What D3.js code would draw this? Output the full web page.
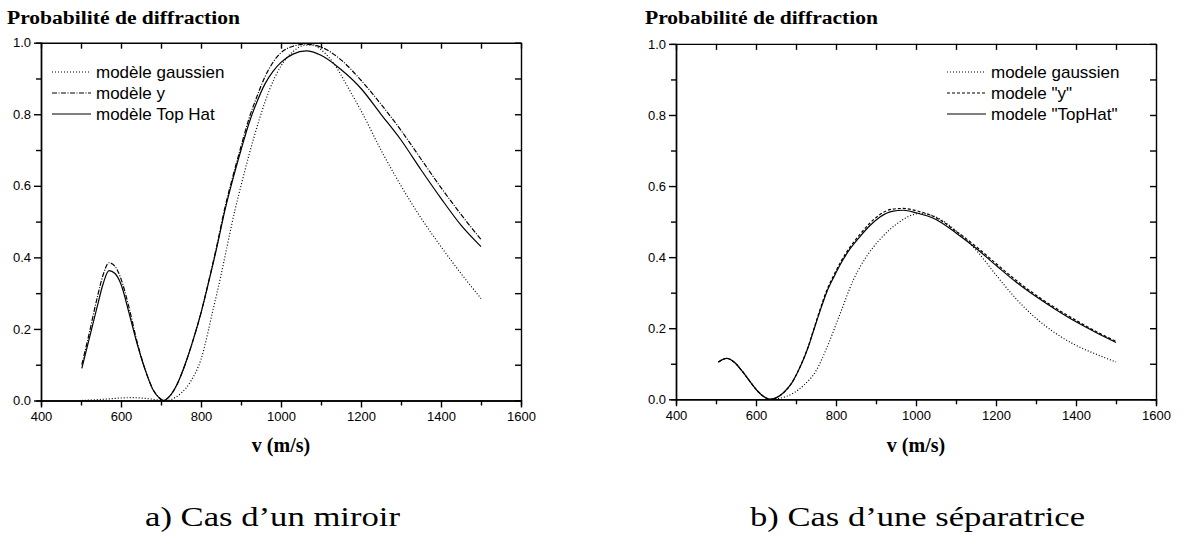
<!DOCTYPE html>
<html lang="fr">
<head>
<meta charset="UTF-8">
<title>Probabilité de diffraction</title>
<script src="https://d3js.org/d3.v7.min.js"></script>
<style>
    body { margin: 0; background: #fff; }
    svg { display: block; }
    .tick text { font-family: "Liberation Sans", Arial, sans-serif; font-size: 13px; fill: #000; }
    .axis path, .axis line { stroke: #000; stroke-width: 1.4px; }
    .ptitle { font-family: "Liberation Serif", "Times New Roman", serif; font-weight: bold; font-size: 18px; }
    .xlabel { font-family: "Liberation Serif", "Times New Roman", serif; font-weight: bold; font-size: 20px; }
    .legend text { font-family: "Liberation Sans", Arial, sans-serif; font-size: 17px; }
    .caption { font-family: "Liberation Serif", "Times New Roman", serif; font-size: 28px; }
</style>
</head>
<body>
<svg width="1184" height="545"></svg>
<script>
// ticks
const xMajor = [400, 600, 800, 1000, 1200, 1400, 1600];
const xMinor = [500, 700, 900, 1100, 1300, 1500];
const yMajor = [0, 0.2, 0.4, 0.6, 0.8, 1.0];
const yMinor = [0.1, 0.3, 0.5, 0.7, 0.9];

// a) miroir
const legendA = ["modèle gaussien", "modèle y", "modèle Top Hat"];
const vA_g = [502, 550, 600, 630, 660, 690, 715, 735, 750, 775, 800, 830, 850, 863, 885, 900, 921, 947, 970, 1000, 1030, 1060, 1080, 1100, 1130, 1170, 1200, 1250, 1300, 1350, 1400, 1450, 1500];
const pA_g = [0.0, 0.003, 0.007, 0.008, 0.006, 0.002, 0.0, 0.008, 0.02, 0.055, 0.115, 0.253, 0.35, 0.419, 0.533, 0.6, 0.69, 0.79, 0.865, 0.935, 0.975, 0.993, 0.993, 0.98, 0.945, 0.87, 0.81, 0.70, 0.60, 0.51, 0.43, 0.355, 0.285];
const vA_y = [502, 520, 540, 555, 570, 585, 600, 620, 640, 660, 680, 695, 706, 720, 740, 760, 780, 800, 820, 840, 860, 880, 900, 920, 940, 960, 980, 1000, 1030, 1063, 1100, 1150, 1200, 1250, 1300, 1350, 1400, 1450, 1500];
const pA_y = [0.10, 0.185, 0.285, 0.35, 0.385, 0.375, 0.34, 0.26, 0.165, 0.088, 0.031, 0.008, 0.0, 0.01, 0.045, 0.10, 0.168, 0.245, 0.337, 0.435, 0.54, 0.628, 0.71, 0.788, 0.85, 0.905, 0.945, 0.972, 0.99, 0.996, 0.988, 0.952, 0.895, 0.828, 0.755, 0.675, 0.595, 0.52, 0.45];
const vA_t = vA_y;
const pA_t = [0.09, 0.17, 0.26, 0.325, 0.363, 0.355, 0.325, 0.245, 0.16, 0.087, 0.03, 0.008, 0.0, 0.01, 0.045, 0.10, 0.168, 0.245, 0.335, 0.43, 0.533, 0.62, 0.70, 0.775, 0.835, 0.885, 0.92, 0.945, 0.968, 0.977, 0.965, 0.925, 0.872, 0.80, 0.728, 0.645, 0.565, 0.49, 0.43];

// b) séparatrice
const legendB = ["modele gaussien", "modele \"y\"", "modele \"TopHat\""];
const vB_g = [506, 527, 545, 565, 585, 605, 620, 640, 660, 693, 720, 750, 777, 810, 843, 880, 910, 950, 1010, 1050, 1100, 1150, 1200, 1250, 1300, 1350, 1400, 1450, 1500];
const pB_g = [0.105, 0.115, 0.105, 0.08, 0.05, 0.022, 0.007, 0.0, 0.003, 0.017, 0.04, 0.08, 0.145, 0.24, 0.335, 0.408, 0.45, 0.492, 0.523, 0.513, 0.474, 0.42, 0.35, 0.283, 0.228, 0.185, 0.152, 0.127, 0.105];
const vB_y = [506, 527, 545, 565, 585, 605, 620, 635, 650, 670, 690, 710, 730, 743, 760, 777, 795, 810, 835, 860, 885, 910, 940, 968, 1000, 1050, 1100, 1150, 1200, 1250, 1300, 1350, 1400, 1450, 1500];
const pB_y = [0.105, 0.115, 0.105, 0.08, 0.05, 0.022, 0.007, 0.0, 0.004, 0.02, 0.047, 0.091, 0.147, 0.192, 0.252, 0.307, 0.35, 0.383, 0.428, 0.464, 0.496, 0.52, 0.535, 0.537, 0.531, 0.511, 0.473, 0.43, 0.382, 0.335, 0.293, 0.256, 0.222, 0.191, 0.163];
const vB_t = vB_y;
const pB_t = [0.105, 0.115, 0.105, 0.08, 0.05, 0.022, 0.007, 0.0, 0.004, 0.02, 0.047, 0.09, 0.145, 0.19, 0.248, 0.302, 0.345, 0.378, 0.423, 0.458, 0.489, 0.513, 0.529, 0.532, 0.525, 0.506, 0.468, 0.425, 0.377, 0.33, 0.289, 0.252, 0.218, 0.188, 0.16];

const dashes = ["1,2", "5,1.5,1,1.5", null];
const dashesB = ["1,2", "3,2", null];

const svg = d3.select("svg");

function drawPanel(p) {
    let x = d3.scaleLinear().domain([400, 1600]).range([p.x0, p.x1]);
    let y = d3.scaleLinear().domain([0, 1]).range([p.y0, p.y1]);
    let g = svg.append("g");

    // axes: bottom/left outward, top/right inward
    g.append("g").attr("class", "axis").attr("transform", `translate(0,${p.y0})`)
        .call(d3.axisBottom(x).tickValues(xMinor).tickSize(5).tickFormat(""));
    g.append("g").attr("class", "axis").attr("transform", `translate(0,${p.y0})`)
        .call(d3.axisBottom(x).tickValues(xMajor).tickSize(7).tickSizeOuter(0).tickPadding(4).tickFormat(d3.format("d")));
    g.append("g").attr("class", "axis").attr("transform", `translate(${p.x0},0)`)
        .call(d3.axisLeft(y).tickValues(yMinor).tickSize(5).tickFormat(""));
    g.append("g").attr("class", "axis").attr("transform", `translate(${p.x0},0)`)
        .call(d3.axisLeft(y).tickValues(yMajor).tickSize(7).tickSizeOuter(0).tickPadding(3).tickFormat(d3.format(".1f")));
    g.append("g").attr("class", "axis").attr("transform", `translate(0,${p.y1})`)
        .call(d3.axisTop(x).tickValues(xMajor.concat(xMinor)).tickSize(-6).tickSizeOuter(0).tickFormat(""));
    g.append("g").attr("class", "axis").attr("transform", `translate(${p.x1},0)`)
        .call(d3.axisRight(y).tickValues(yMajor.concat(yMinor)).tickSize(-6).tickSizeOuter(0).tickFormat(""));

    let line = d3.line().x(d => x(d[0])).y(d => y(d[1])).curve(d3.curveMonotoneX);
    p.series.forEach((s, i) => {
        g.append("path")
            .datum(d3.zip(s.v, s.p))
            .attr("fill", "none")
            .attr("stroke", "#000")
            .attr("stroke-width", 1.2)
            .attr("stroke-dasharray", p.dash[i])
            .attr("d", line);
    });

    // legend
    let lg = g.append("g").attr("class", "legend");
    p.legend.forEach((t, i) => {
        let ly = p.legY + i * 21;
        lg.append("line")
            .attr("x1", p.legX).attr("x2", p.legX + 39)
            .attr("y1", ly).attr("y2", ly)
            .attr("stroke", "#000").attr("stroke-width", 1.2)
            .attr("stroke-dasharray", p.dash[i]);
        lg.append("text").attr("x", p.legX + 44).attr("y", ly + 6).text(t);
    });

    g.append("text").attr("class", "ptitle")
        .attr("x", p.titleX).attr("y", 24)
        .attr("textLength", 233).attr("lengthAdjust", "spacingAndGlyphs")
        .text("Probabilité de diffraction");
    g.append("text").attr("class", "xlabel")
        .attr("x", (p.x0 + p.x1) / 2).attr("y", 452)
        .attr("text-anchor", "middle")
        .text("v (m/s)");
    g.append("text").attr("class", "caption")
        .attr("x", p.capX).attr("y", 526)
        .attr("textLength", p.capW).attr("lengthAdjust", "spacingAndGlyphs")
        .text(p.caption);
}

drawPanel({
    x0: 41, x1: 521, y0: 400.5, y1: 42.7,
    series: [{v: vA_g, p: pA_g}, {v: vA_y, p: pA_y}, {v: vA_t, p: pA_t}],
    dash: dashes, legend: legendA, legX: 52, legY: 72,
    titleX: 7, caption: "a) Cas d’un miroir", capX: 145, capW: 255
});
drawPanel({
    x0: 676, x1: 1156, y0: 399.3, y1: 43.9,
    series: [{v: vB_g, p: pB_g}, {v: vB_y, p: pB_y}, {v: vB_t, p: pB_t}],
    dash: dashesB, legend: legendB, legX: 947, legY: 72,
    titleX: 645, caption: "b) Cas d’une séparatrice", capX: 750, capW: 335
});
</script>
</body>
</html>
